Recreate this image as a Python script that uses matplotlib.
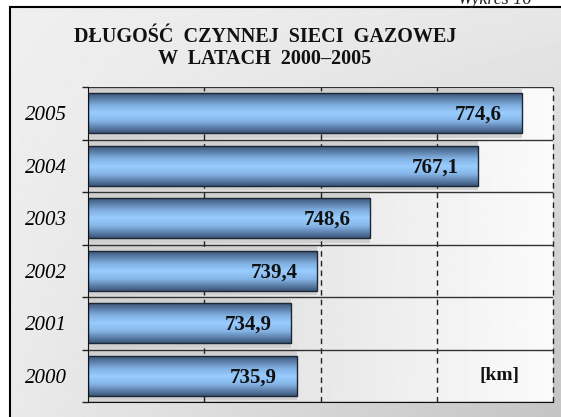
import numpy as np
import matplotlib
matplotlib.use("Agg")
import matplotlib.pyplot as plt
from matplotlib.colors import LinearSegmentedColormap

# ---- data ----
years = ["2000", "2001", "2002", "2003", "2004", "2005"]
values = [735.9, 734.9, 739.4, 748.6, 767.1, 774.6]
xmin, xmax = 700, 780
grid_ticks = [720, 740, 760, 780]
title_lines = ["DŁUGOŚĆ  CZYNNEJ  SIECI  GAZOWEJ", "W  LATACH  2000–2005"]
unit_label = "[km]"
corner_label = "Wykres 16"

SERIF = ["Liberation Serif", "DejaVu Serif"]
W, H = 561, 417
fig = plt.figure(figsize=(W / 100, H / 100), dpi=100)
fig.patch.set_facecolor("white")

# ---- frame background (diagonal grey gradient) ----
bg = fig.add_axes([0, 0, 1, 1])
bg.set_xlim(0, W)
bg.set_ylim(H, 0)
bg.axis("off")
u = np.linspace(0, 1, 200)[None, :]
v = np.linspace(0, 1, 200)[:, None]
c00, c10, c01, c11 = 0xEF, 0xE7, 0xEA, 0xC4
g = (c00 * (1 - u) * (1 - v) + c10 * u * (1 - v) + c01 * (1 - u) * v + c11 * u * v) / 255.0
bg.imshow(g, cmap="gray", vmin=0, vmax=1, extent=[10, W + 2, H + 2, 7],
          aspect="auto", interpolation="bilinear", zorder=0)
bg.plot([10, 10, W + 5], [H + 5, 7, 7], color="black", lw=1.5, zorder=2,
        solid_joinstyle="miter")
bg.set_xlim(0, W)
bg.set_ylim(H, 0)
bg.text(458, 3.5, corner_label, fontsize=13, style="italic", family=SERIF,
        ha="left", va="baseline", color="#222222")

# ---- title ----
for i, line in enumerate(title_lines):
    fig.text(265 / W, 1 - (37 + 22.5 * i) / H, line, ha="center", va="center",
             fontsize=14.5, fontweight="bold", family=SERIF, color="#111111")

# ---- main axes ----
L, R, T, B = 88, 553, 87, 402
ax = fig.add_axes([L / W, 1 - B / H, (R - L) / W, (B - T) / H])
ax.set_facecolor("none")
ypos = np.arange(len(years))

# plot-area horizontal gradient
pg = np.linspace(0xD5, 0xFB, 256)[None, :] / 255.0
ax.imshow(pg, cmap="gray", vmin=0, vmax=1, extent=[xmin, xmax, -0.5, len(years) - 0.5],
          aspect="auto", interpolation="bilinear", zorder=0)

# shadow bands behind bars
ax.barh(ypos, [v_ - xmin for v_ in values], left=xmin, height=0.94,
        color="#d0d0d0", edgecolor="none", zorder=1)

# vertical dashed gridlines
for gx in grid_ticks:
    ax.axvline(gx, color="#222222", lw=1.0, linestyle=(0, (4, 3)), zorder=1.5,
               clip_on=False)

# row separators
for yb in np.arange(-0.5, len(years), 1.0):
    ax.axhline(yb, color="#333333", lw=1.0, zorder=2)

# bars with vertical gradient
cmap = LinearSegmentedColormap.from_list(
    "barg", [(0.0, "#3c5578"), (0.3, "#7fafe0"), (0.5, "#99ccff"),
             (0.7, "#86b6e8"), (1.0, "#3c5578")])
bars = ax.barh(ypos, [v_ - xmin for v_ in values], left=xmin, height=0.76,
               facecolor="none", edgecolor="#1b2636", lw=1.0, zorder=3.5)
grad = np.linspace(0, 1, 100)[:, None]
for b in bars:
    x0, y0 = b.get_x(), b.get_y()
    ax.imshow(grad, cmap=cmap, extent=[x0, x0 + b.get_width(), y0, y0 + b.get_height()],
              aspect="auto", interpolation="bilinear", zorder=3)

# value labels
for y, val in zip(ypos, values):
    ax.annotate(f"{val:.1f}".replace(".", ","), xy=(val, y), xytext=(-14, -1),
                textcoords="offset points", ha="right", va="center",
                fontsize=15, fontweight="bold", family=SERIF, color="#111111", zorder=5)

ax.text(0.886, 0, unit_label, transform=ax.get_yaxis_transform(), ha="center",
        va="center", fontsize=14, fontweight="bold", family=SERIF, color="#111111", zorder=5)

ax.set_xlim(xmin, xmax)
ax.set_ylim(-0.5, len(years) - 0.5)
ax.set_xticks([])
ax.set_yticks(ypos)
ax.set_yticklabels(years, fontsize=15, style="italic", family=SERIF)
ax.set_yticks(np.arange(-0.5, len(years), 1.0), minor=True)
ax.tick_params(axis="y", which="major", length=0, pad=15)
ax.tick_params(axis="y", which="minor", length=4.5, width=1.0, color="#222222", direction="out")
for s in ["top", "right"]:
    ax.spines[s].set_visible(False)
ax.spines["left"].set_color("#111111")
ax.spines["bottom"].set_color("#111111")
ax.spines["left"].set_zorder(6)

fig.savefig("out.png", dpi=100)
